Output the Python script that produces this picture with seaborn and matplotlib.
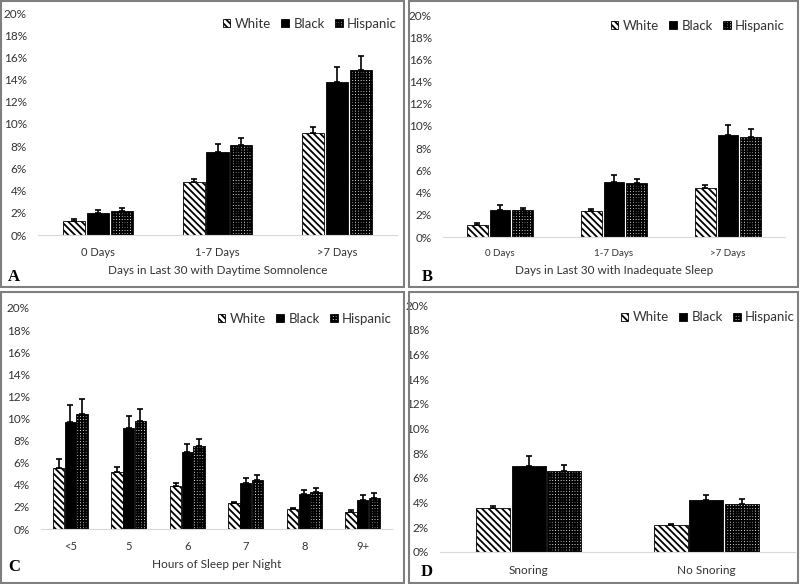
import numpy as np
import pandas as pd
import seaborn as sns
import matplotlib
matplotlib.use('Agg')
import matplotlib.pyplot as plt
from matplotlib.patches import Rectangle
from matplotlib.ticker import PercentFormatter, MultipleLocator

# --- data (percent) ---
groups = ['White', 'Black', 'Hispanic']

a_cats = ['0 Days', '1-7 Days', '>7 Days']
a_white = [1.3, 4.8, 9.15]
a_black = [2.0, 7.45, 13.8]
a_hisp = [2.2, 8.1, 14.85]
a_white_err = [0.1, 0.25, 0.55]
a_black_err = [0.25, 0.75, 1.3]
a_hisp_err = [0.2, 0.6, 1.25]

b_cats = ['0 Days', '1-7 Days', '>7 Days']
b_white = [1.1, 2.35, 4.45]
b_black = [2.45, 5.0, 9.2]
b_hisp = [2.45, 4.85, 9.0]
b_white_err = [0.2, 0.2, 0.2]
b_black_err = [0.4, 0.55, 0.9]
b_hisp_err = [0.2, 0.4, 0.7]

c_cats = ['<5', '5', '6', '7', '8', '9+']
c_white = [5.5, 5.2, 3.9, 2.35, 1.8, 1.5]
c_black = [9.7, 9.15, 7.0, 4.15, 3.15, 2.65]
c_hisp = [10.4, 9.75, 7.5, 4.4, 3.35, 2.8]
c_white_err = [0.85, 0.45, 0.3, 0.12, 0.12, 0.2]
c_black_err = [1.5, 1.1, 0.7, 0.45, 0.42, 0.45]
c_hisp_err = [1.4, 1.1, 0.6, 0.5, 0.4, 0.45]

d_cats = ['Snoring', 'No Snoring']
d_white = [3.55, 2.15]
d_black = [6.95, 4.2]
d_hisp = [6.55, 3.9]
d_white_err = [0.15, 0.08]
d_black_err = [0.8, 0.45]
d_hisp_err = [0.5, 0.4]

sns.set_theme(style='white')
plt.rcParams['font.family'] = ['Lato', 'DejaVu Sans']
plt.rcParams['hatch.linewidth'] = 1.3
plt.rcParams['text.color'] = '#333333'

W, H = 800, 584
fig = plt.figure(figsize=(W / 100, H / 100), dpi=100)


def px_axes(x0, x1, y0, y1):
    return fig.add_axes([x0 / W, 1 - y1 / H, (x1 - x0) / W, (y1 - y0) / H])


styles = {
    'White': dict(facecolor='white', edgecolor='black', hatch='\\' * 5),
    'Black': dict(facecolor='black', edgecolor='black', hatch=None),
    'Hispanic': dict(facecolor='white', edgecolor='black', hatch='+' * 6),
}


def panel(ax, cats, vals, errs, xlabel, xt_size, gap):
    df = pd.DataFrame({
        'cat': np.tile(cats, 3),
        'group': np.repeat(groups, len(cats)),
        'val': np.concatenate(vals),
    })
    sns.barplot(data=df, x='cat', y='val', hue='group', order=cats,
                hue_order=groups, width=0.6, gap=gap, errorbar=None,
                legend=False, ax=ax,
                palette={'White': 'white', 'Black': 'black', 'Hispanic': 'white'})
    bars = list(ax.containers)
    for g, cont, err in zip(groups, bars, errs):
        for p in cont:
            p.set_facecolor(styles[g]['facecolor'])
            p.set_edgecolor(styles[g]['edgecolor'])
            p.set_hatch(styles[g]['hatch'])
            p.set_linewidth(0.6)
        xs = [p.get_x() + p.get_width() / 2 for p in cont]
        ys = [p.get_height() for p in cont]
        ax.errorbar(xs, ys, yerr=[np.zeros(len(err)), err], fmt='none',
                    ecolor='black', elinewidth=1.2, capsize=2.3, capthick=1.2)
    ax.set_ylim(0, 20)
    ax.set_xlim(-0.5, len(cats) - 0.5)
    ax.yaxis.set_major_locator(MultipleLocator(2))
    ax.yaxis.set_major_formatter(PercentFormatter(100, decimals=0))
    ax.tick_params(axis='both', length=0, colors='#333333')
    ax.tick_params(axis='y', labelsize=8.5, pad=8)
    ax.tick_params(axis='x', labelsize=xt_size, pad=9)
    ax.set_ylabel('')
    ax.set_xlabel(xlabel, fontsize=8.5, color='#333333', labelpad=5)
    for s in ['top', 'right', 'left']:
        ax.spines[s].set_visible(False)
    ax.spines['bottom'].set_color('#d9d9d9')
    ax.spines['bottom'].set_linewidth(0.8)
    ax.patch.set_alpha(0)
    handles = [c.patches[0] for c in bars]
    ax.legend(handles, groups, ncol=3, loc='center right',
              bbox_to_anchor=(1.0, 0.95), frameon=False, fontsize=9.5,
              handlelength=0.55, handleheight=0.55, handletextpad=0.35,
              columnspacing=0.8, borderaxespad=0, borderpad=0)


# panel frames
for x0, y0, x1, y1 in [(1, 1, 404, 287), (409, 1, 798, 287),
                       (1, 292, 404, 583), (409, 292, 798, 583)]:
    fig.patches.append(Rectangle((x0 / W, 1 - y1 / H), (x1 - x0) / W, (y1 - y0) / H,
                                 transform=fig.transFigure, fill=False,
                                 edgecolor='#7f7f7f', linewidth=1.5))

ax_a = px_axes(38, 397, 13, 235)
panel(ax_a, a_cats, [a_white, a_black, a_hisp], [a_white_err, a_black_err, a_hisp_err],
      'Days in Last 30 with Daytime Somnolence', 8, 0.08)

ax_b = px_axes(443, 785, 15, 237)
panel(ax_b, b_cats, [b_white, b_black, b_hisp], [b_white_err, b_black_err, b_hisp_err],
      'Days in Last 30 with Inadequate Sleep', 7, 0.08)

ax_c = px_axes(41, 392, 308, 529)
panel(ax_c, c_cats, [c_white, c_black, c_hisp], [c_white_err, c_black_err, c_hisp_err],
      'Hours of Sleep per Night', 8, 0.05)

ax_d = px_axes(440, 795, 305, 552)
panel(ax_d, d_cats, [d_white, d_black, d_hisp], [d_white_err, d_black_err, d_hisp_err],
      '', 8.5, 0.05)

for lab, x, y in [('A', 14, 277), ('B', 427, 277), ('C', 14, 567), ('D', 427, 572)]:
    fig.text(x / W, 1 - y / H, lab, family='Liberation Serif', fontweight='bold',
             fontsize=12, color='black', ha='center', va='center')

fig.savefig('out.png', dpi=100)
